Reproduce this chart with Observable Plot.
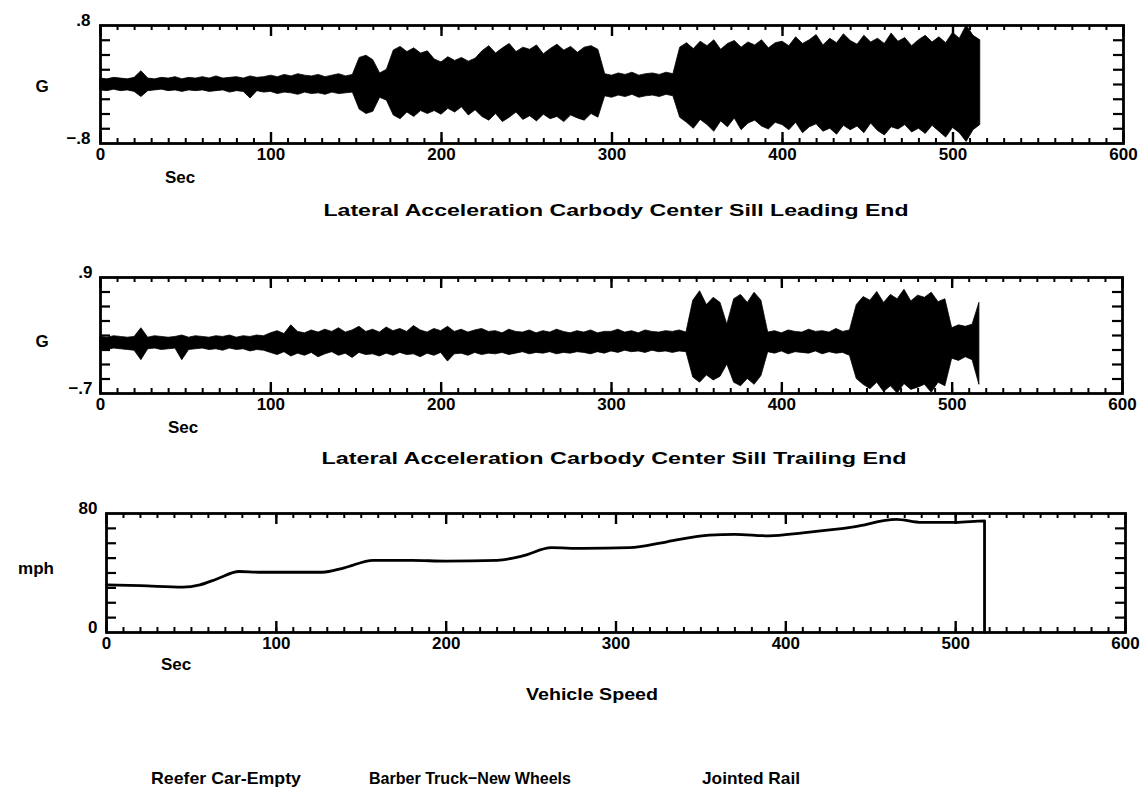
<!DOCTYPE html>
<html><head><meta charset="utf-8">
<script src="https://cdn.jsdelivr.net/npm/d3@7"></script>
<script src="https://cdn.jsdelivr.net/npm/@observablehq/plot@0.6"></script>
<style>
body{margin:0;background:#fff;}
#root{position:relative;width:1146px;height:806px;overflow:hidden;background:#fff;}
.p{position:absolute;left:0;}
#txt{position:absolute;left:0;top:0;pointer-events:none;}
</style></head><body><div id="root"></div>
<script>
// sample times (s) of the envelope readings
const secs = [0,4,8,12,16,20,24,28,32,36,40,44,48,52,56,60,64,68,72,76,80,84,88,92,96,100,104,108,112,116,120,124,128,132,136,140,144,148,152,156,160,164,168,172,176,180,184,188,192,196,200,204,208,212,216,220,224,228,232,236,240,244,248,252,256,260,264,268,272,276,280,284,288,292,296,300,304,308,312,316,320,324,328,332,336,340,344,348,352,356,360,364,368,372,376,380,384,388,392,396,400,404,408,412,416,420,424,428,432,436,440,444,448,452,456,460,464,468,472,476,480,484,488,492,496,500,504,508,512,516];

// Leading end lateral acceleration envelope (G)
const leadHi = [.08,.07,.09,.08,.07,.09,.18,.08,.07,.09,.08,.10,.07,.09,.08,.10,.08,.11,.08,.09,.10,.08,.11,.09,.10,.12,.10,.13,.11,.14,.12,.11,.13,.10,.12,.14,.11,.13,
 .36,.39,.33, .15,.20, .46,.51,.44,.49,.42,.45, .34,.30,.37,.32,.36,.31,.35,
 .45,.52,.42,.49,.55,.44,.50,.47,.53,.41,.48,.54,.46,.51,.43,.50,.52,.47,
 .14,.12,.15,.13,.16,.12,.14,.15,.13,.16,.14,
 .50,.56,.48,.58,.52,.60,.47,.55,.59,.50,.57,.53,.60,.49,.56,
 .58,.52,.64,.55,.60,.67,.53,.62,.56,.68,.59,.54,.66,.57,.62,.55,.69,.58,.63,.52,.60,.66,.57,.64,.56,.70,.62,.80,.66,.60];
const leadLo = [-.08,-.09,-.07,-.09,-.08,-.10,-.17,-.09,-.08,-.07,-.09,-.08,-.10,-.08,-.09,-.08,-.10,-.09,-.08,-.11,-.09,-.10,-.19,-.09,-.11,-.10,-.13,-.11,-.12,-.14,-.11,-.13,-.12,-.14,-.11,-.13,-.12,-.11,
 -.34,-.40,-.37, -.18,-.22, -.42,-.47,-.38,-.44,-.36,-.40, -.36,-.41,-.33,-.38,-.31,-.42,-.35,
 -.44,-.49,-.40,-.51,-.45,-.38,-.48,-.43,-.50,-.41,-.47,-.44,-.51,-.42,-.46,-.49,-.40,-.45,
 -.16,-.18,-.15,-.17,-.14,-.18,-.16,-.15,-.17,-.14,-.16,
 -.45,-.52,-.60,-.48,-.55,-.64,-.50,-.58,-.46,-.62,-.53,-.49,-.57,-.61,-.52,
 -.55,-.62,-.52,-.66,-.58,-.54,-.64,-.60,-.68,-.56,-.62,-.57,-.66,-.53,-.63,-.69,-.58,-.61,-.55,-.65,-.60,-.67,-.56,-.64,-.72,-.59,-.66,-.78,-.62,-.55];

// Trailing end lateral acceleration envelope (G)
const trailHi = [.08,.07,.09,.08,.07,.08,.20,.07,.09,.08,.07,.08,.10,.07,.09,.08,.07,.09,.08,.10,.07,.09,.08,.10,.09,
 .13,.16,.12,.24,.15,.13,.17,.14,.18,.15,.20,.14,.17,.22,.15,.18,.14,.21,.16,.19,.15,.23,.17,.14,.19,.16,.22,.15,.18,.14,.17,.19,.15,.16,.13,.18,.15,.14,.17,.13,.16,.14,.18,.15,.13,.16,.14,.17,.13,.15,
 .15,.18,.14,.16,.13,.17,.15,.14,.16,.15,.17,.14,
 .58,.71,.52,.62,.55, .25, .60,.66,.55,.69,.58,
 .14,.16,.13,.17,.15,.14,.18,.15,.16,.14,.19,.15,.17,
 .52,.63,.58,.70,.55,.66,.60,.73,.57,.65,.62,.69,.56,.60,
 .20,.24,.22,.25, .55];
const trailLo = [-.09,-.10,-.08,-.09,-.10,-.11,-.24,-.09,-.08,-.10,-.09,-.08,-.24,-.10,-.09,-.08,-.10,-.09,-.11,-.08,-.10,-.09,-.12,-.10,-.11,
 -.14,-.17,-.13,-.19,-.15,-.18,-.14,-.20,-.16,-.13,-.18,-.15,-.21,-.14,-.17,-.16,-.19,-.15,-.18,-.14,-.17,-.16,-.20,-.15,-.18,-.14,-.26,-.16,-.15,-.18,-.14,-.17,-.15,-.16,-.14,-.17,-.15,-.13,-.16,-.14,-.15,-.13,-.16,-.14,-.15,-.13,-.14,-.16,-.13,-.15,
 -.12,-.14,-.11,-.13,-.12,-.14,-.11,-.13,-.12,-.14,-.12,-.13,
 -.48,-.55,-.45,-.52,-.47, -.30, -.55,-.60,-.50,-.58,-.46,
 -.13,-.15,-.12,-.16,-.13,-.14,-.15,-.12,-.16,-.13,-.15,-.14,-.18,
 -.50,-.58,-.64,-.55,-.68,-.60,-.70,-.57,-.65,-.62,-.58,-.69,-.55,-.60,
 -.22,-.25,-.20,-.24, -.58];

// Vehicle speed (mph)
const speedSec = [0,20,45,55,65,78,90,110,127,140,157,180,200,230,245,262,280,308,330,355,370,390,410,440,465,480,500,517,517];
const speedMph = [32,31.5,30.5,32,36,41,40.5,40.5,40.5,43.5,48.5,48.5,48,48.5,51.5,57,56.5,57,61,65.5,66,65,67,71,76,74,74,75,0];

// tick labels
const xTickLabels = [0,100,200,300,400,500,600];
const xMinorTicks = d3.range(0, 601, 10);

const lead = secs.map((t,i)=>({t, hi: leadHi[i], lo: leadLo[i]}));
const trail = secs.map((t,i)=>({t, hi: trailHi[i], lo: trailLo[i]}));
const speed = speedSec.map((t,i)=>({t, v: speedMph[i]}));

const FONT = "'Liberation Sans', Arial, Helvetica, sans-serif";
const W = 1146;
const root = document.getElementById("root");

function panel({top, left, right, frameH, yDomain, yMinor, yLabels, yFmt, yPad, marks}) {
  const mt = 25, mb = 34, innerW = right - left;
  const svg = Plot.plot({
    width: W, height: mt + frameH + mb,
    marginTop: mt, marginBottom: mb, marginLeft: left, marginRight: W - right,
    x: {domain: [0, 600]},
    y: {domain: yDomain},
    style: {fontFamily: FONT, fontSize: "17px", fontWeight: "bold", color: "black", background: "white", overflow: "visible"},
    marks: [
      ...marks,
      Plot.tickX(xMinorTicks, {x: d => d, insetTop: frameH - 5, strokeWidth: 2}),
      Plot.tickX(xMinorTicks, {x: d => d, insetBottom: frameH - 5, strokeWidth: 2}),
      Plot.tickX(xTickLabels, {x: d => d, insetTop: frameH - 11, strokeWidth: 2.4}),
      Plot.tickX(xTickLabels, {x: d => d, insetBottom: frameH - 11, strokeWidth: 2.4}),
      Plot.tickY(yMinor, {y: d => d, insetRight: innerW - 10, strokeWidth: 2.2}),
      Plot.tickY(yMinor, {y: d => d, insetLeft: innerW - 10, strokeWidth: 2.2}),
      Plot.frame({strokeWidth: 2.8}),
      Plot.axisX(xTickLabels, {tickSize: 0, tickPadding: 4, label: null, fontSize: 17, fontWeight: "bold"}),
      Plot.axisY(yLabels, {tickSize: 0, tickPadding: yPad, tickFormat: yFmt, label: null, fontSize: 17, fontWeight: "bold", dy: -5})
    ]
  });
  svg.classList.add("p");
  svg.style.top = (top - mt) + "px";
  root.appendChild(svg);
}

panel({
  top: 25, left: 100, right: 1123, frameH: 118,
  yDomain: [-0.8, 0.8], yMinor: [-0.6,-0.4,-0.2,0,0.2,0.4,0.6],
  yLabels: [-0.8, 0.8], yFmt: d => d > 0 ? ".8" : "\u2212.8", yPad: 10,
  marks: [Plot.areaY(lead, {x: "t", y1: "lo", y2: "hi", fill: "black", stroke: "black", strokeWidth: 0.8})]
});

panel({
  top: 277, left: 100, right: 1122, frameH: 116,
  yDomain: [-0.7, 0.9], yMinor: [-0.5,-0.3,-0.1,0.1,0.3,0.5,0.7],
  yLabels: [-0.7, 0.9], yFmt: d => d > 0 ? ".9" : "\u2212.7", yPad: 8,
  marks: [Plot.areaY(trail, {x: "t", y1: "lo", y2: "hi", fill: "black", stroke: "black", strokeWidth: 0.8})]
});

panel({
  top: 513, left: 106, right: 1125, frameH: 119,
  yDomain: [0, 80], yMinor: [10,20,30,40,50,60,70],
  yLabels: [0, 80], yFmt: d => String(d), yPad: 9,
  marks: [Plot.line(speed, {x: "t", y: "v", stroke: "black", strokeWidth: 2.8, curve: "monotone-x"})]
});

// text overlay
const ns = "http://www.w3.org/2000/svg";
const t = document.createElementNS(ns, "svg");
t.setAttribute("id", "txt"); t.setAttribute("width", W); t.setAttribute("height", 806);
function txt(s, x, y, size, len, family) {
  const e = document.createElementNS(ns, "text");
  e.setAttribute("x", x); e.setAttribute("y", y);
  e.setAttribute("text-anchor", "middle");
  e.setAttribute("dominant-baseline", "central");
  e.setAttribute("font-family", family || FONT);
  e.setAttribute("font-weight", "bold");
  e.setAttribute("font-size", size);
  if (len) { e.setAttribute("textLength", len); e.setAttribute("lengthAdjust", "spacingAndGlyphs"); }
  e.textContent = s;
  t.appendChild(e);
}
txt("G", 42, 86, 17);
txt("G", 42, 341, 17);
txt("mph", 36, 568, 17);
txt("Sec", 180, 177, 17);
txt("Sec", 183, 427, 17);
txt("Sec", 176, 664, 17);
txt("Lateral  Acceleration  Carbody  Center  Sill  Leading  End", 616, 210, 16, 585);
txt("Lateral  Acceleration  Carbody  Center  Sill  Trailing  End", 614, 458, 16, 585);
txt("Vehicle  Speed", 592, 694, 16, 132);
const NARROW = "'Liberation Sans Narrow', 'Liberation Sans', Arial, sans-serif";
txt("Reefer Car-Empty", 226, 778, 17, 150, NARROW);
txt("Barber Truck\u2212New Wheels", 470, 778, 17, 202, NARROW);
txt("Jointed Rail", 751, 778, 17, 98, NARROW);
root.appendChild(t);
</script>
</body></html>
